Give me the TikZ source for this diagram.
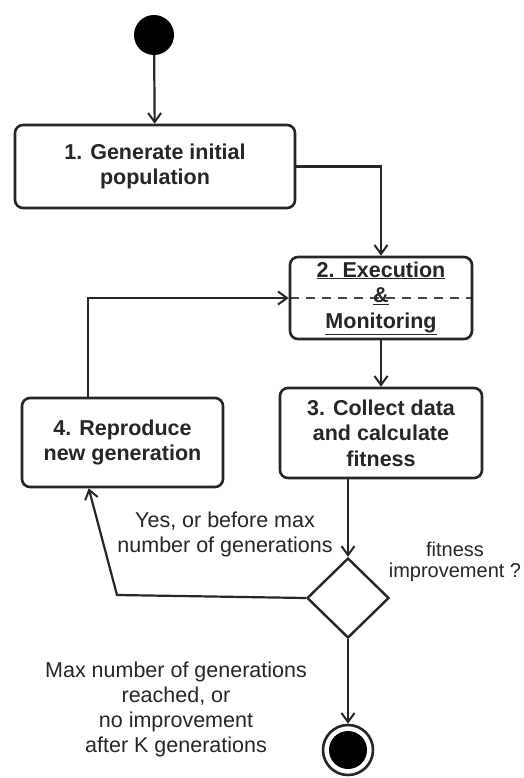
\documentclass[tikz,border=0pt]{standalone}
\usepackage{fontspec}
\setmainfont{Liberation Sans}
\usetikzlibrary{arrows.meta,shapes.geometric}
\definecolor{ink}{HTML}{262626}
\begin{document}
\begin{tikzpicture}[x=1pt,y=-1pt,
  actbox/.style={draw=ink, line width=2.6pt, rounded corners=8pt, fill=white,
    align=center, text=ink, inner sep=0pt,
    font=\fontsize{21.5}{25.5}\selectfont\bfseries},
  flow/.style={draw=ink, line width=2.2pt,
    -{Straight Barb[length=9pt,width=13pt,line width=2pt]}},
  note/.style={align=center, text=ink, font=\fontsize{21.5}{25}\selectfont}]

\useasboundingbox (0,0) rectangle (523,778);
\fill[white] (0,0) rectangle (523,778);

% initial state
\node[circle, fill=black, minimum size=40pt, inner sep=0pt] (start) at (154,35) {};

% activities
\node[actbox, minimum width=280pt, minimum height=83pt] (gen) at (155,166.5)
  {1. Generate initial\\population};
\node[actbox, minimum width=182pt, minimum height=82pt,
  path picture={\draw[ink!85, line width=2pt, dash pattern=on 9pt off 7pt]
    (path picture bounding box.west) -- (path picture bounding box.east);}]
  (exec) at (381,298)
  {\underline{2. Execution}\\\underline{\&}\\\underline{Monitoring}};
\node[actbox, minimum width=202pt, minimum height=90pt] (calc) at (381,433)
  {3. Collect data\\and calculate\\fitness};
\node[actbox, minimum width=201pt, minimum height=89pt] (repro) at (122.5,442.5)
  {4. Reproduce\\new generation};

% decision
\node[diamond, draw=ink, line width=2.4pt, fill=white, inner sep=0pt,
  minimum width=82pt, minimum height=80pt] (dec) at (348,598) {};

% final state
\node[circle, draw=ink, line width=2.6pt, minimum size=50pt, inner sep=0pt,
  path picture={\fill[black] (path picture bounding box.center) circle[radius=19pt];}]
  (final) at (348,750) {};

% guard and condition labels
\node[note] (yeslbl) at (225,534.5) {Yes, or before max\\number of generations};
\node[note, font=\fontsize{20}{21.5}\selectfont] (fitlbl) at (455,562)
  {fitness\\improvement ?};
\node[note] (stoplbl) at (176,709.5)
  {Max number of generations\\reached, or\\no improvement\\after K generations};

% control flow
\coordinate (loopbend) at (117,595);
\draw[flow] (start) -- (gen);
\draw[flow] (gen.east) -| (exec.north);
\draw[flow] (exec) -- (calc);
\draw[flow] (calc.south -| dec.north) -- (dec.north);
\draw[flow] (dec.south) -- (final);
\draw[flow] (dec.west) -- (loopbend) -- ([xshift=68pt]repro.south west);
\draw[flow] ([xshift=67pt]repro.north west) |- (exec.west);
\end{tikzpicture}
\end{document}
